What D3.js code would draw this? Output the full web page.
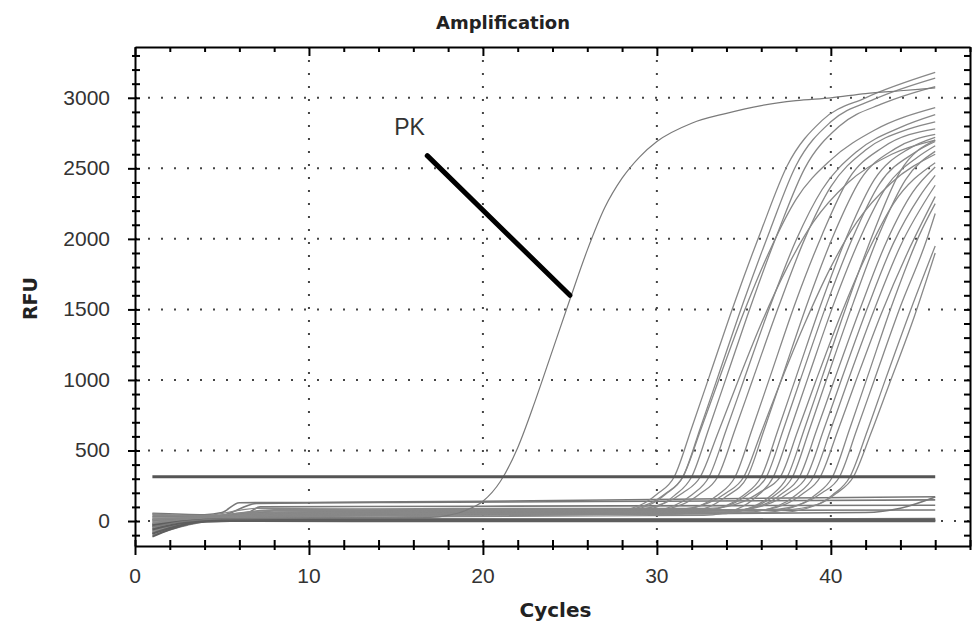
<!DOCTYPE html>
<html>
<head>
<meta charset="utf-8">
<script src="https://cdn.jsdelivr.net/npm/d3@7"></script>
<style>
  body { margin: 0; background: #fff; }
  svg { display: block; }
</style>
</head>
<body>
<svg id="chart" width="974" height="626"></svg>
<script>
// ---- data: [cycle, RFU] ----
const xTicks = [0, 10, 20, 30, 40];
const yTicks = [0, 500, 1000, 1500, 2000, 2500, 3000];
const thresholdRfu = 314;
const thresholdCycles = [1, 46];

const pkCurve = [[1,-40],[3,0],[5,15],[10,20],[17,25],[18,40],[19,75],[20,140],[21,280],[22,520],[23,850],[24,1210],[25,1570],[26,1920],[27,2220],[28,2430],[29,2580],[30,2690],[32,2820],[34,2890],[36,2945],[38,2980],[40,3000],[42,3030],[44,3050],[46,3070]];

const risingCurves = [
  [[1,-70],[3,-10],[5,20],[15,40],[27,60],[29,110],[30,190],[31,314],[32,660],[33,1020],[34.5,1560],[36,2060],[37.5,2520],[39.5,2840],[42,3000],[46,3180]],
  [[1,-40],[4,10],[6,30],[20,50],[27.5,60],[29.5,110],[30.5,190],[31.5,314],[32.5,660],[33.5,1020],[35,1560],[36.5,2060],[38,2520],[40,2830],[42.5,2990],[46,3140]],
  [[1,20],[4,25],[8,60],[20,70],[27.5,70],[29.5,120],[30.5,195],[31.5,314],[32.5,640],[33.5,980],[35,1480],[36.5,1920],[38,2280],[40,2560],[42.5,2770],[46,2930]],
  [[1,-100],[3,-30],[5,10],[15,30],[28,50],[30,100],[31,180],[32,314],[33,660],[34,1020],[35.5,1560],[37,2060],[38.5,2500],[40.5,2800],[43,2960],[46,3080]],
  [[1,40],[4,40],[7,90],[20,80],[28.5,80],[30.5,130],[31.5,200],[32.5,314],[33.5,620],[34.5,940],[36,1400],[37.5,1800],[39,2120],[41,2400],[43.5,2600],[46,2700]],
  [[1,-20],[4,15],[10,50],[29,60],[31,110],[32,185],[33,314],[34,650],[35,1000],[36.5,1520],[38,1990],[39.5,2350],[41.5,2620],[44,2790],[46,2880]],
  [[1,-80],[3,-20],[5,15],[20,60],[29.5,70],[31.5,120],[32.5,195],[33.5,314],[34.5,650],[35.5,1000],[37,1520],[38.5,2000],[40,2370],[42,2630],[44.5,2780],[46,2830]],
  [[1,0],[4,20],[12,50],[30.5,60],[32.5,110],[33.5,185],[34.5,314],[35.5,660],[36.5,1020],[38,1560],[39.5,2030],[41,2420],[43,2650],[46,2780]],
  [[1,-55],[4,5],[8,70],[20,80],[31,80],[33,130],[34,200],[35,314],[36,630],[37,950],[38.5,1400],[40,1800],[41.5,2120],[43.5,2400],[46,2600]],
  [[1,50],[4,35],[10,45],[31,50],[33,100],[34,175],[35.2,314],[36.2,660],[37.2,1020],[38.7,1560],[40.2,2040],[41.7,2420],[43.7,2640],[46,2740]],
  [[1,-30],[4,10],[10,40],[32,60],[34,110],[35,185],[36,314],[37,660],[38,1020],[39.5,1560],[41,2040],[42.5,2420],[44.5,2640],[46,2720]],
  [[1,-65],[3,-15],[6,30],[20,60],[32.3,70],[34.3,120],[35.3,195],[36.3,314],[37.3,660],[38.3,1020],[39.8,1550],[41.3,2020],[42.8,2390],[44.8,2610],[46,2690]],
  [[1,10],[4,20],[15,30],[32.7,40],[34.7,90],[35.7,170],[36.7,314],[37.7,660],[38.7,1020],[40.2,1550],[41.7,2010],[43.2,2370],[45,2580],[46,2660]],
  [[1,-10],[4,25],[8,80],[20,90],[33,90],[35,140],[36,210],[37.1,314],[38.1,640],[39.1,980],[40.6,1470],[42.1,1900],[43.6,2250],[46,2540]],
  [[1,-90],[3,-25],[5,10],[15,40],[33.5,50],[35.5,100],[36.5,175],[37.5,314],[38.5,660],[39.5,1020],[41,1560],[42.5,2060],[44,2480],[46,2700]],
  [[1,30],[4,30],[12,55],[33.8,60],[35.8,110],[36.8,185],[37.8,314],[38.8,660],[39.8,1020],[41.3,1550],[42.8,2040],[44.3,2420],[46,2620]],
  [[1,-35],[4,15],[10,60],[34,70],[36.2,120],[37.2,195],[38.2,314],[39.2,650],[40.2,1000],[41.7,1510],[43.2,1980],[44.7,2330],[46,2510]],
  [[1,-75],[3,-15],[6,40],[15,75],[34.6,80],[36.6,130],[37.6,200],[38.6,314],[39.6,650],[40.6,1000],[42.1,1510],[43.6,1970],[45.1,2300],[46,2450]],
  [[1,15],[4,25],[10,50],[35,60],[37,110],[38,185],[39,314],[40,650],[41,1000],[42.5,1500],[44,1950],[46,2380]],
  [[1,-50],[4,10],[9,65],[35.4,70],[37.4,120],[38.4,195],[39.4,314],[40.4,640],[41.4,980],[42.9,1470],[44.4,1900],[46,2300]],
  [[1,-25],[4,15],[10,55],[36,60],[38.1,110],[39.1,185],[40.1,314],[41.1,660],[42.1,1020],[43.6,1560],[45.1,2030],[46,2250]],
  [[1,45],[4,35],[8,75],[36.5,80],[38.5,130],[39.5,200],[40.5,314],[41.5,650],[42.5,1000],[44,1520],[45.5,1990],[46,2180]],
  [[1,-15],[4,20],[10,50],[37,60],[39.1,110],[40.1,185],[41.1,314],[42.1,640],[43.1,990],[44.6,1500],[46,1950]],
  [[1,-85],[3,-20],[5,15],[15,70],[37.3,80],[39.3,120],[40.3,195],[41.3,314],[42.3,620],[43.3,950],[44.8,1450],[46,1900]]
];

const flatCurves = [
  [[1,55],[4,45],[5,60],[6,130],[15,132],[30,140],[46,150]],
  [[1,30],[5,35],[6.5,60],[7.2,100],[20,105],[46,112]],
  [[1,-20],[4,20],[7,60],[20,72],[46,78]],
  [[1,0],[4,25],[10,40],[30,50],[42,60],[44,90],[46,170]],
  [[1,10],[5,40],[7,125],[20,140],[35,160],[46,172]],
  [[1,-45],[4,5],[10,15],[30,14],[46,18]]
];

// overlapping wells sitting right on zero (drawn darker)
const zeroCurves = [
  [[1,-90],[2,-50],[3,-20],[4,0],[6,5],[15,5],[30,5],[46,5]],
  [[1,-60],[3,-10],[5,0],[20,-2],[46,-2]],
  [[1,-30],[3,0],[5,10],[25,10],[46,10]],
  [[1,-110],[2,-60],[4,-5],[8,2],[46,2]]
];

// PK annotation: label position and pointer line, in data units
const pkLabel = [14.9, 2736];
const pkPointer = [[16.8, 2590], [25.0, 1600]];

// ---- layout ----
const width = 974, height = 626;
const margin = { top: 47, right: 4, bottom: 80, left: 135 };
const svg = d3.select("#chart");

const x = d3.scaleLinear()
    .domain([0, 48])
    .range([margin.left, width - margin.right]);

const y = d3.scaleLinear()
    .domain([-177, 3360])
    .range([height - margin.bottom, margin.top]);

const x0 = x.range()[0], x1 = x.range()[1];
const yB = y.range()[0], yT = y.range()[1];

// dotted grid
svg.append("g")
    .selectAll("line")
    .data(yTicks)
    .join("line")
      .attr("x1", x0).attr("x2", x1)
      .attr("y1", d => y(d)).attr("y2", d => y(d))
      .attr("stroke", "#444")
      .attr("stroke-width", 2)
      .attr("stroke-dasharray", "2,11");

svg.append("g")
    .selectAll("line")
    .data(xTicks.filter(d => d > 0))
    .join("line")
      .attr("x1", d => x(d)).attr("x2", d => x(d))
      .attr("y1", yT).attr("y2", yB)
      .attr("stroke", "#444")
      .attr("stroke-width", 2)
      .attr("stroke-dasharray", "2,11");

// curves
const line = d3.line()
    .x(d => x(d[0]))
    .y(d => y(d[1]))
    .curve(d3.curveMonotoneX);

svg.append("g")
    .attr("fill", "none")
    .selectAll("path")
    .data(flatCurves)
    .join("path")
      .attr("d", line)
      .attr("stroke", "#777")
      .attr("stroke-width", 1.6);

svg.append("g")
    .attr("fill", "none")
    .selectAll("path")
    .data(risingCurves)
    .join("path")
      .attr("d", line)
      .attr("stroke", "#888")
      .attr("stroke-width", 1.3);

svg.append("g")
    .attr("fill", "none")
    .selectAll("path")
    .data(zeroCurves)
    .join("path")
      .attr("d", line)
      .attr("stroke", "#5e5e5e")
      .attr("stroke-width", 2);

svg.append("path")
    .attr("d", line(pkCurve))
    .attr("fill", "none")
    .attr("stroke", "#7a7a7a")
    .attr("stroke-width", 1.2);

// threshold line
svg.append("line")
    .attr("x1", x(thresholdCycles[0])).attr("x2", x(thresholdCycles[1]))
    .attr("y1", y(thresholdRfu)).attr("y2", y(thresholdRfu))
    .attr("stroke", "#555")
    .attr("stroke-width", 3);

// axes with crossing ticks
const yMinor = d3.range(-100, 3301, 100);
const xMinor = d3.range(0, 49, 2);

const gLeft = svg.append("g")
    .attr("transform", `translate(${x0},0)`)
    .call(d3.axisLeft(y).tickValues(yMinor).tickFormat("").tickSizeOuter(0));
gLeft.selectAll(".tick line")
    .attr("x1", 5)
    .attr("x2", d => d % 500 === 0 ? -7 : -3)
    .attr("stroke-width", 2);

const gBottom = svg.append("g")
    .attr("transform", `translate(0,${yB})`)
    .call(d3.axisBottom(x).tickValues(xMinor).tickFormat("").tickSizeOuter(0));
gBottom.selectAll(".tick line")
    .attr("y1", -6)
    .attr("y2", d => d % 10 === 0 ? 9 : 4)
    .attr("stroke-width", 2);

svg.append("g")
    .attr("transform", `translate(0,${yT})`)
    .call(d3.axisTop(x).tickValues(xMinor).tickFormat("").tickSizeInner(-5).tickSizeOuter(0))
    .selectAll(".tick line")
    .attr("y2", d => d % 10 === 0 ? 9 : 5)
    .attr("stroke-width", 2);

svg.append("g")
    .attr("transform", `translate(${x1},0)`)
    .call(d3.axisRight(y).tickValues(yMinor).tickFormat("").tickSizeInner(-6).tickSizeOuter(0))
    .selectAll(".tick line")
    .attr("stroke-width", 2);

svg.selectAll(".domain")
    .attr("stroke", "#000")
    .attr("stroke-width", 2);

// tick labels
svg.append("g")
    .selectAll("text")
    .data(yTicks)
    .join("text")
      .attr("x", x0 - 25)
      .attr("y", d => y(d))
      .attr("dy", "0.33em")
      .attr("text-anchor", "end")
      .attr("font-family", "Liberation Sans, Arial, sans-serif")
      .attr("font-size", 21)
      .attr("fill", "#333")
      .text(d => d);

svg.append("g")
    .selectAll("text")
    .data(xTicks)
    .join("text")
      .attr("x", d => x(d))
      .attr("y", yB + 37)
      .attr("text-anchor", "middle")
      .attr("font-family", "Liberation Sans, Arial, sans-serif")
      .attr("font-size", 21)
      .attr("fill", "#333")
      .text(d => d);

// titles
svg.append("text")
    .attr("x", 503).attr("y", 29)
    .attr("text-anchor", "middle")
    .attr("font-family", "DejaVu Sans, sans-serif")
    .attr("font-weight", "bold")
    .attr("font-size", 18)
    .attr("fill", "#222")
    .text("Amplification");

svg.append("text")
    .attr("x", (x0 + x1) / 2 + 3).attr("y", 617)
    .attr("text-anchor", "middle")
    .attr("font-family", "DejaVu Sans, sans-serif")
    .attr("font-weight", "bold")
    .attr("font-size", 20)
    .attr("fill", "#222")
    .text("Cycles");

svg.append("text")
    .attr("transform", `translate(37,${(yT + yB) / 2 + 2}) rotate(-90)`)
    .attr("text-anchor", "middle")
    .attr("font-family", "DejaVu Sans, sans-serif")
    .attr("font-weight", "bold")
    .attr("font-size", 19)
    .attr("fill", "#222")
    .text("RFU");

// PK annotation
svg.append("line")
    .attr("x1", x(pkPointer[0][0])).attr("y1", y(pkPointer[0][1]))
    .attr("x2", x(pkPointer[1][0])).attr("y2", y(pkPointer[1][1]))
    .attr("stroke", "#000")
    .attr("stroke-width", 5)
    .attr("stroke-linecap", "round");

svg.append("text")
    .attr("x", x(pkLabel[0])).attr("y", y(pkLabel[1]))
    .attr("font-family", "Liberation Sans, Arial, sans-serif")
    .attr("font-size", 23)
    .attr("fill", "#333")
    .text("PK");
</script>
</body>
</html>
